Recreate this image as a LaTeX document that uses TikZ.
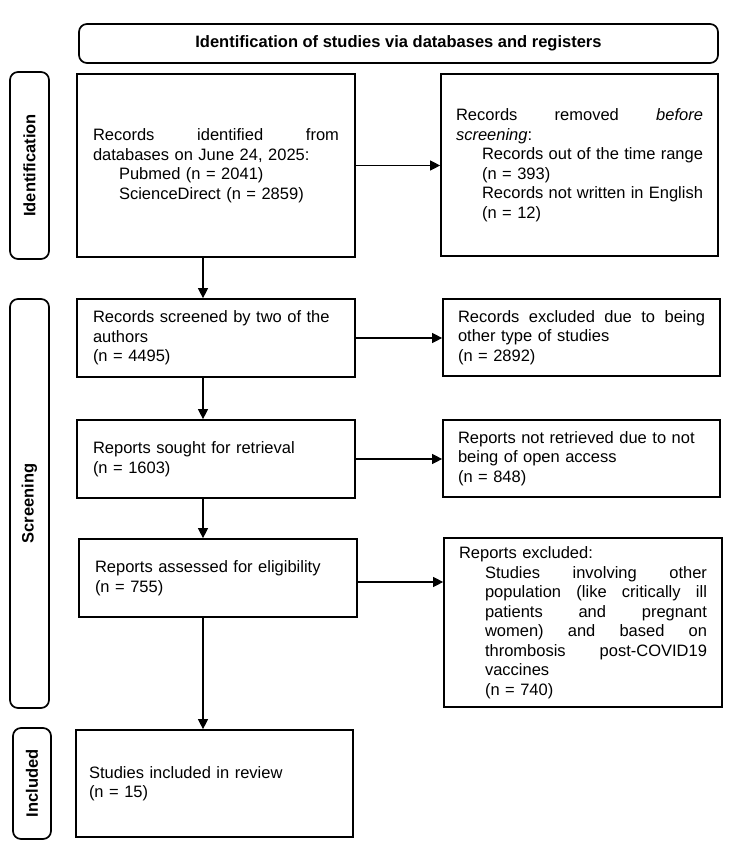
\documentclass[tikz,border=0pt]{standalone}
\usepackage{fontspec}
\setmainfont{Liberation Sans}
\usepackage{graphicx}
\usetikzlibrary{arrows.meta}
\newcommand{\jline}[1]{\makebox[\hsize][s]{\spaceskip=0.278em plus 1fil\relax #1}}
\newcommand{\ijline}[1]{\hspace*{26pt}\makebox[\dimexpr\hsize-26pt\relax][s]{\spaceskip=0.278em plus 1fil\relax #1}}
\newcommand{\iline}[1]{\hspace*{26pt}#1}
\tikzset{
  box/.style={draw, line width=1.7pt, inner sep=0pt, align=left,
    font=\fontsize{16.5}{19.5}\selectfont},
  hdrbox/.style={draw, line width=1.7pt, rounded corners=8pt, inner sep=0pt,
    font=\fontsize{16.5}{19.5}\selectfont\bfseries},
  sidebox/.style={draw, line width=1.7pt, rounded corners=8pt, inner sep=0pt,
    font=\fontsize{16.5}{19.5}\selectfont\bfseries},
  arr/.style={line width=1.1pt, -{Triangle[length=10pt,width=10pt]}}
}
\begin{document}
\begin{tikzpicture}[x=1pt,y=-1pt]
\fill[white] (0,0) rectangle (750,850);
\useasboundingbox (0,0) rectangle (750,850);

% header
\node[hdrbox, minimum width=639, minimum height=39] (hdr) at (398.5,43.5)
  {Identification of studies via databases and registers};

% side labels
\node[sidebox, minimum width=39, minimum height=187] (lid) at (29.5,165.5)
  {\rotatebox{90}{Identification}};
\node[sidebox, minimum width=39, minimum height=409] (lscr) at (29.5,503.5)
  {\rotatebox{90}{Screening}};
\node[sidebox, minimum width=38, minimum height=111] (linc) at (32,783.5)
  {\rotatebox{90}{Included}};

% left column
\node[box, minimum width=278, minimum height=183, text width=246] (id) at (216,165.5)
  {\jline{Records identified from}\\
   databases on June 24, 2025:\\
   \iline{Pubmed (n = 2041)}\\
   \iline{ScienceDirect (n = 2859)}};
\node[box, minimum width=278, minimum height=78, text width=246] (scr) at (216,338)
  {Records screened by two of the\\ authors\\ (n = 4495)};
\node[box, minimum width=278, minimum height=78, text width=246] (sou) at (216,459)
  {Reports sought for retrieval\\ (n = 1603)};
\node[box, minimum width=278, minimum height=78, text width=246] (ass) at (218,578)
  {Reports assessed for eligibility\\ (n = 755)};
\node[box, minimum width=277, minimum height=107, text width=251] (inc) at (214.5,783.5)
  {Studies included in review\\ (n = 15)};

% right column
\node[box, minimum width=277, minimum height=182, text width=247] (rem) at (579.5,165)
  {\jline{Records removed \textit{before}}\\
   \textit{screening}:\\
   \ijline{Records out of the time range}\\
   \iline{(n = 393)}\\
   \ijline{Records not written in English}\\
   \iline{(n = 12)}};
\node[box, minimum width=277, minimum height=77, text width=247] (exc) at (581.5,337.5)
  {\jline{Records excluded due to being}\\ other type of studies\\ (n = 2892)};
\node[box, minimum width=277, minimum height=77, text width=247] (nret) at (581.5,458.5)
  {Reports not retrieved due to not\\ being of open access\\ (n = 848)};
\node[box, minimum width=278, minimum height=169, text width=248] (rex) at (583,622.5)
  {Reports excluded:\\
   \ijline{Studies involving other}\\
   \ijline{population (like critically ill}\\
   \ijline{patients and pregnant}\\
   \ijline{women) and based on}\\
   \ijline{thrombosis post-COVID19}\\
   \iline{vaccines}\\
   \iline{(n = 740)}};

% connectors
\coordinate (ax) at (203,0);
\coordinate (ay) at (0,582);
\draw[arr] (id.south -| ax) -- (scr.north -| ax);
\draw[arr] (scr.south -| ax) -- (sou.north -| ax);
\draw[arr] (sou.south -| ax) -- (ass.north -| ax);
\draw[arr] (ass.south -| ax) -- (inc.north -| ax);

\draw[arr] (id.east) -- (id.east -| rem.west);
\draw[arr] (scr.east) -- (scr.east -| exc.west);
\draw[arr] (sou.east) -- (sou.east -| nret.west);
\draw[arr] (ass.east |- ay) -- (rex.west |- ay);
\end{tikzpicture}
\end{document}
